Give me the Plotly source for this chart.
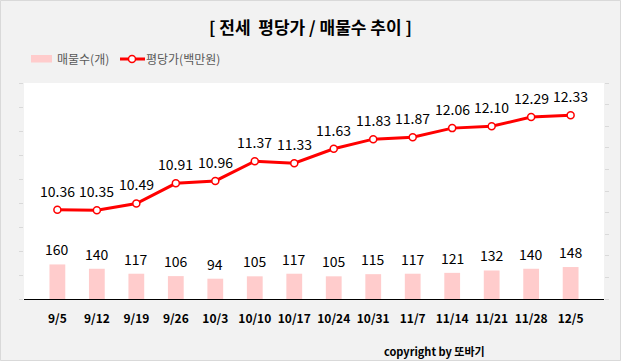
import plotly.graph_objects as go

categories = ["9/5", "9/12", "9/19", "9/26", "10/3", "10/10", "10/17", "10/24",
              "10/31", "11/7", "11/14", "11/21", "11/28", "12/5"]
listings = [160, 140, 117, 106, 94, 105, 117, 105, 115, 117, 121, 132, 140, 148]
price = [10.36, 10.35, 10.49, 10.91, 10.96, 11.37, 11.33, 11.63, 11.83, 11.87,
         12.06, 12.10, 12.29, 12.33]

FONT = "Noto Sans CJK KR"
W, H = 621, 361
L, R, T, B = 24, 17, 83, 62
PW, PH = W - L - R, H - T - B


def px(x):
    return (x - L) / PW


def py(y):
    return (H - B - y) / PH


fig = go.Figure()
fig.add_trace(go.Bar(
    x=categories, y=listings, name="매물수(개)",
    marker=dict(color="#ffcccc", line=dict(width=0)),
    width=0.4, yaxis="y",
))
fig.add_trace(go.Scatter(
    x=categories, y=price, name="평당가(백만원)", yaxis="y2",
    mode="lines+markers",
    line=dict(color="#ff0000", width=3),
    marker=dict(size=7, color="white", line=dict(color="#ff0000", width=1.5)),
))

annotations = []
for c, v in zip(categories, listings):
    annotations.append(dict(x=c, y=v, xref="x", yref="y", text=str(v),
                            showarrow=False, yshift=15,
                            font=dict(family=FONT, size=14, color="#000000")))
for c, v in zip(categories, price):
    annotations.append(dict(x=c, y=v, xref="x", yref="y2", text=f"{v:.2f}",
                            showarrow=False, yshift=19,
                            font=dict(family=FONT, size=14, color="#000000")))
annotations.append(dict(x=px(310), y=py(27), xref="paper", yref="paper",
                        xanchor="center", yanchor="middle", showarrow=False,
                        text="<b>[ 전세  평당가 / 매물수 추이 ]</b>",
                        font=dict(family=FONT, size=17, color="#000000")))
annotations.append(dict(x=px(487), y=py(351), xref="paper", yref="paper",
                        xanchor="right", yanchor="middle", showarrow=False,
                        text="<b>copyright by 또바기</b>",
                        font=dict(family=FONT, size=11, color="#000000")))
# legend texts
annotations.append(dict(x=px(55), y=py(59), xref="paper", yref="paper",
                        xanchor="left", yanchor="middle", showarrow=False,
                        text="매물수(개)", font=dict(family=FONT, size=12, color="#595959")))
annotations.append(dict(x=px(144), y=py(59), xref="paper", yref="paper",
                        xanchor="left", yanchor="middle", showarrow=False,
                        text="평당가(백만원)", font=dict(family=FONT, size=12, color="#595959")))

shapes = [
    dict(type="rect", xref="paper", yref="paper", x0=px(0.5), x1=px(W - 0.5),
         y0=py(H - 0.5), y1=py(0.5), line=dict(color="#d9d9d9", width=1)),
    dict(type="rect", xref="paper", yref="paper", x0=px(31), x1=px(52),
         y0=py(62.5), y1=py(55), fillcolor="#ffcccc", line=dict(width=0)),
    dict(type="line", xref="paper", yref="paper", x0=px(120), x1=px(145),
         y0=py(59), y1=py(59), line=dict(color="#ff0000", width=3)),
    dict(type="circle", xref="paper", yref="paper", x0=px(128.5), x1=px(135.5),
         y0=py(62.5), y1=py(55.5), fillcolor="white", line=dict(color="#ff0000", width=1.5)),
]

fig.update_layout(
    width=W, height=H,
    margin=dict(l=L, r=R, t=T, b=B),
    paper_bgcolor="#f2f2f2", plot_bgcolor="#ffffff",
    font=dict(family=FONT),
    showlegend=False,
    xaxis=dict(type="category", showgrid=False, showline=True, linecolor="#000000",
               linewidth=1, ticks="",
               tickfont=dict(family=FONT, size=12, color="#000000", weight="bold"),
               ticklabelstandoff=9),
    yaxis=dict(range=[0, 1000], tickmode="linear", tick0=0, dtick=1000 / 9,
               showticklabels=False, showgrid=False, ticks="outside", ticklen=4,
               tickcolor="#d9d9d9", zeroline=False),
    yaxis2=dict(range=[8.5, 13.0], tickmode="linear", tick0=8.5, dtick=0.45,
                overlaying="y", side="right", showticklabels=False, showgrid=False,
                ticks="outside", ticklen=4, tickcolor="#d9d9d9", zeroline=False),
    annotations=annotations,
    shapes=shapes,
)

fig.write_html("out.html", config={"displayModeBar": False},
               post_script="document.body.style.margin='0';document.body.style.padding='0';")
